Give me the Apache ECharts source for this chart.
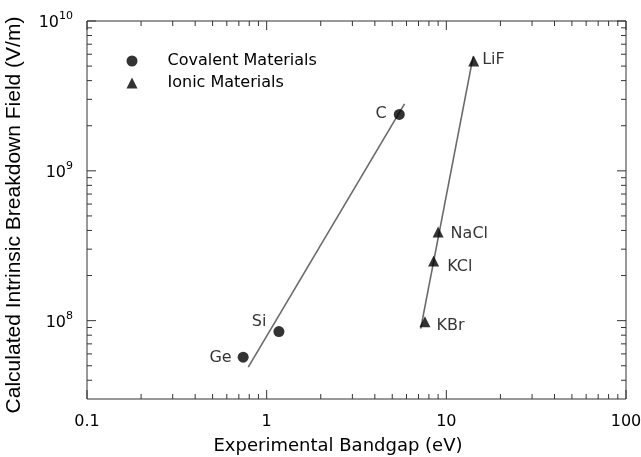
<!DOCTYPE html>
<html>
<head>
<meta charset="utf-8">
<script src="https://cdn.jsdelivr.net/npm/echarts@6/dist/echarts.min.js"></script>
<style>
  html, body { margin: 0; padding: 0; background: #fff; }
  #chart { width: 641px; height: 457px; }
</style>
</head>
<body>
<div id="chart"></div>
<script>
// tick values
var xMajor = [0.1, 1, 10, 100];
var xMinor = [0.2, 0.3, 0.4, 0.5, 0.6, 0.7, 0.8, 0.9, 2, 3, 4, 5, 6, 7, 8, 9, 20, 30, 40, 50, 60, 70, 80, 90];
var yMajor = [1e8, 1e9, 1e10];
var yMinor = [4e7, 5e7, 6e7, 7e7, 8e7, 9e7, 2e8, 3e8, 4e8, 5e8, 6e8, 7e8, 8e8, 9e8, 2e9, 3e9, 4e9, 5e9, 6e9, 7e9, 8e9, 9e9];
var xMin = 0.1, xMax = 100;
var yMin = 3e7, yMax = 1e10;

// covalent materials
var covNames = ['Ge', 'Si', 'C'];
var covGap = [0.74, 1.17, 5.47];
var covField = [5.7e7, 8.45e7, 2.38e9];

// ionic materials
var ionNames = ['KBr', 'KCl', 'NaCl', 'LiF'];
var ionGap = [7.6, 8.5, 9.0, 14.2];
var ionField = [9.85e7, 2.5e8, 3.9e8, 5.4e9];

// fit lines
var covFitX = [0.79, 5.85];
var covFitY = [4.9e7, 2.8e9];
var ionFitX = [7.2, 14.1];
var ionFitY = [8.85e7, 5.8e9];

var font = '"DejaVu Sans", sans-serif';
var titleFont = '"Liberation Sans", Arial, Helvetica, sans-serif';
var axisColor = '#333';

// where each point label sits
var labelPlace = {
  Ge: { position: 'left', distance: 6, offset: [0, 1] },
  Si: { position: 'left', distance: 7, offset: [0, -10] },
  C: { position: 'left', distance: 7, offset: [0, -1] },
  LiF: { position: 'right', distance: 3, offset: [0, -1] },
  NaCl: { position: 'right', distance: 7, offset: [0, 2] },
  KCl: { position: 'right', distance: 8, offset: [0, 6] },
  KBr: { position: 'right', distance: 6, offset: [0, 4] }
};

function points(names, xs, ys) {
  return names.map(function (n, i) {
    var p = labelPlace[n];
    return {
      name: n,
      value: [xs[i], ys[i]],
      label: { show: true, formatter: n, position: p.position, distance: p.distance, offset: p.offset }
    };
  });
}
function pairs(xs, ys) {
  return xs.map(function (x, i) { return [x, ys[i]]; });
}

// inward ticks on all four sides, placed through the axis scales
function xTicks(params, api) {
  var v = api.value(0), len = api.value(1);
  var b = api.coord([v, yMin]), t = api.coord([v, yMax]);
  var st = { stroke: axisColor, lineWidth: 1 };
  return { type: 'group', children: [
    { type: 'line', shape: { x1: b[0], y1: b[1], x2: b[0], y2: b[1] - len }, style: st },
    { type: 'line', shape: { x1: t[0], y1: t[1], x2: t[0], y2: t[1] + len }, style: st }
  ] };
}
function yTicks(params, api) {
  var v = api.value(1), len = api.value(0);
  var l = api.coord([xMin, v]), r = api.coord([xMax, v]);
  var st = { stroke: axisColor, lineWidth: 1 };
  return { type: 'group', children: [
    { type: 'line', shape: { x1: l[0], y1: l[1], x2: l[0] + len, y2: l[1] }, style: st },
    { type: 'line', shape: { x1: r[0], y1: r[1], x2: r[0] - len, y2: r[1] }, style: st }
  ] };
}
var xTickData = xMajor.map(function (v) { return [v, 9]; }).concat(xMinor.map(function (v) { return [v, 5]; }));
var yTickData = yMajor.map(function (v) { return [9, v]; }).concat(yMinor.map(function (v) { return [5, v]; }));

var chart = echarts.init(document.getElementById('chart'), null, { renderer: 'canvas' });
chart.setOption({
  animation: false,
  backgroundColor: '#fff',
  textStyle: { fontFamily: font },
  grid: {
    left: 87, right: 15, top: 21, bottom: 58,
    containLabel: false, outerBoundsMode: 'none',
    show: true, borderColor: axisColor, borderWidth: 1, backgroundColor: 'transparent'
  },
  legend: {
    data: ['Covalent Materials', 'Ionic Materials'],
    orient: 'vertical',
    left: 126.5, top: 53, padding: 0,
    itemWidth: 11, itemHeight: 11, itemGap: 6,
    selectedMode: false,
    textStyle: { fontSize: 16, fontFamily: font, color: '#000', padding: [0, 0, 0, 25] }
  },
  xAxis: {
    type: 'log', logBase: 10, min: xMin, max: xMax,
    name: 'Experimental Bandgap (eV)',
    nameLocation: 'middle', nameGap: 38,
    nameTextStyle: { fontSize: 18, fontFamily: font, color: '#000', padding: [0, 37, 0, 0] },
    axisLine: { show: false },
    axisTick: { show: false },
    axisLabel: {
      customValues: xMajor, margin: 15, color: '#000', fontSize: 16, fontFamily: font,
      formatter: function (v) { return String(v); }
    },
    splitLine: { show: false }
  },
  yAxis: {
    type: 'log', logBase: 10, min: yMin, max: yMax,
    name: 'Calculated Intrinsic Breakdown Field (V/m)',
    nameLocation: 'middle', nameGap: 62,
    nameTextStyle: { fontSize: 21, fontFamily: titleFont, color: '#000', padding: [0, 10, 0, 0] },
    axisLine: { show: false },
    axisTick: { show: false },
    axisLabel: {
      customValues: yMajor, margin: 14, color: '#000',
      formatter: function (v) { return '{b|10}{s|' + Math.round(Math.log10(v)) + '}'; },
      rich: {
        b: { fontSize: 16, fontFamily: font, color: '#000', lineHeight: 20, verticalAlign: 'bottom' },
        s: { fontSize: 11, fontFamily: font, color: '#000', lineHeight: 20, verticalAlign: 'top' }
      }
    },
    splitLine: { show: false }
  },
  series: [
    {
      name: 'xTicks', type: 'custom', renderItem: xTicks, data: xTickData,
      encode: { x: 0 }, silent: true, clip: false, z: 5
    },
    {
      name: 'yTicks', type: 'custom', renderItem: yTicks, data: yTickData,
      encode: { y: 1 }, silent: true, clip: false, z: 5
    },
    {
      name: 'covFit', type: 'line', data: pairs(covFitX, covFitY),
      symbol: 'none', lineStyle: { color: '#6a6a6a', width: 1.6 }, silent: true, z: 1
    },
    {
      name: 'ionFit', type: 'line', data: pairs(ionFitX, ionFitY),
      symbol: 'none', lineStyle: { color: '#6a6a6a', width: 1.6 }, silent: true, z: 1
    },
    {
      name: 'Covalent Materials', type: 'scatter', symbol: 'circle', symbolSize: 11,
      itemStyle: { color: '#000' },
      label: { color: '#000', fontSize: 16, fontFamily: font },
      data: points(covNames, covGap, covField), z: 3
    },
    {
      name: 'Ionic Materials', type: 'scatter', symbol: 'triangle', symbolSize: 11,
      itemStyle: { color: '#000' },
      label: { color: '#000', fontSize: 16, fontFamily: font },
      data: points(ionNames, ionGap, ionField), z: 3
    }
  ]
});
</script>
</body>
</html>
